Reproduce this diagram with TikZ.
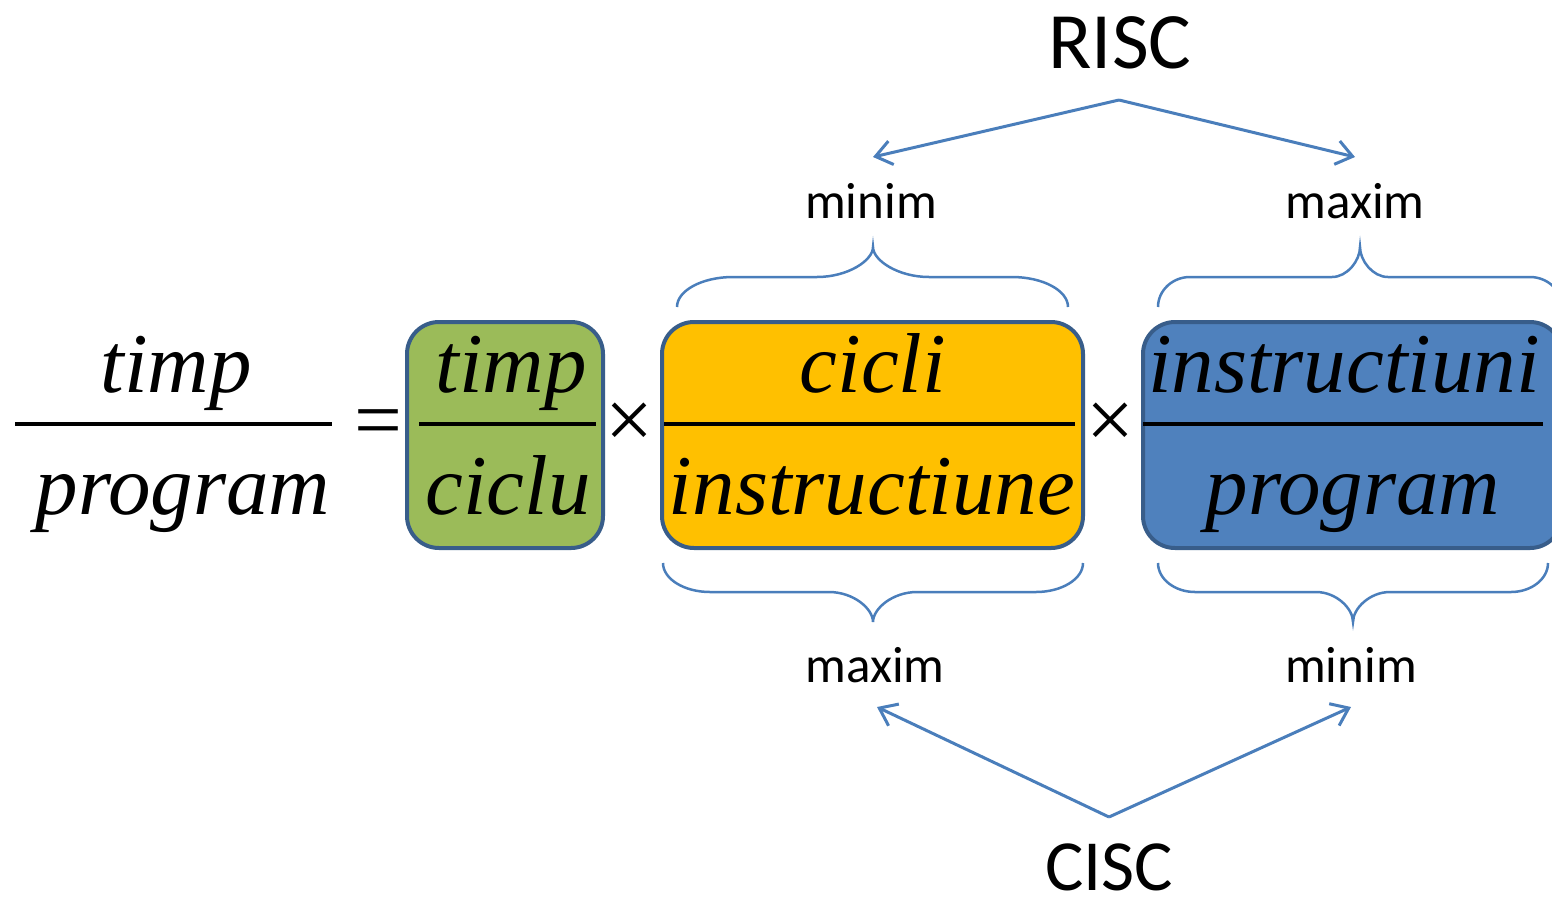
\documentclass[tikz,border=0pt]{standalone}
\usepackage{fontspec}
\setmainfont{Carlito}
\newfontfamily\fracfont{Liberation Serif Italic}
\newfontfamily\signfont{Liberation Serif}
\usepackage{tikz}
\usetikzlibrary{arrows.meta}
\definecolor{ppblue}{HTML}{4A7EBB}
\definecolor{boxline}{HTML}{385D8A}
\definecolor{boxgreen}{HTML}{9BBB59}
\definecolor{boxyellow}{HTML}{FFC000}
\definecolor{boxblue}{HTML}{4F81BD}

\begin{document}
\begin{tikzpicture}[x=1pt,y=-1pt,
ratio/.style={font=\fracfont\fontsize{85}{90}\selectfont, inner sep=0pt, anchor=base},
opsign/.style={font=\signfont\fontsize{85}{90}\selectfont, inner sep=0pt, anchor=base},
factorbox/.style={draw=boxline, line width=4pt, rounded corners=32pt, minimum height=226pt, inner sep=0pt},
fracbar/.style={line width=3.5pt},
levelnote/.style={font=\fontsize{51}{56}\selectfont, inner sep=0pt, anchor=base},
archname/.style={font=\fontsize{80}{90}\selectfont, inner sep=0pt, anchor=base},
pointer/.style={ppblue, line width=3pt, -{Straight Barb[length=16pt,width=24pt]}},
curlybrace/.style={ppblue, line width=2.5pt}]
\useasboundingbox (0,0) rectangle (1552,900);
% left side
\node[ratio] (lhs-num) at (176,392) {timp};
\node[ratio] (lhs-den) at (183,514) {program};
\draw[fracbar] (15,424) -- (332,424);
\node[opsign] (eq) at (378,448) {=};
% the three factors
\node[factorbox, fill=boxgreen, minimum width=196pt] (tpc) at (505,435) {};
\node[factorbox, fill=boxyellow, minimum width=421pt] (cpi) at (872.5,435) {};
\node[factorbox, fill=boxblue, minimum width=419pt] (ipp) at (1352.5,435) {};
\node[ratio] (tpc-num) at (511,392) {timp};
\node[ratio] (tpc-den) at (508,514) {ciclu};
\draw[fracbar] (419,424) -- (596,424);
\node[opsign] (times1) at (629,448) {×};
\node[ratio] (cpi-num) at (873,392) {cicli};
\node[ratio] (cpi-den) at (872,514) {instructiune};
\draw[fracbar] (664,424) -- (1075,424);
\node[opsign] (times2) at (1110,448) {×};
\node[ratio] (ipp-num) at (1344,392) {instructiuni};
\node[ratio] (ipp-den) at (1353,514) {program};
\draw[fracbar] (1143,424) -- (1543,424);
% braces
\foreach \l/\m/\r/\e/\h/\t/\c/\d in {677/873/1068/307/277/247/56/56, 1158/1360/1562/307/277/247/32/28,
    663/873/1083/563/592/622/47/44, 1158/1353/1548/563/592/622/37/37}
  \draw[curlybrace] (\l,\e) .. controls (\l,{\e+(\h-\e)*0.55}) and ({\l+\c*0.45},\h) .. ({\l+\c},\h)
    -- ({\m-\d},\h) .. controls ({\m-\d*0.45},\h) and (\m,{\h+(\t-\h)*0.55}) .. (\m,\t)
    .. controls (\m,{\h+(\t-\h)*0.55}) and ({\m+\d*0.45},\h) .. ({\m+\d},\h)
    -- ({\r-\c},\h) .. controls ({\r-\c*0.45},\h) and (\r,{\e+(\h-\e)*0.55}) .. (\r,\e);
% RISC / CISC
\node[archname] (risc) at (1120,68) {RISC};
\node[archname, font=\fontsize{72}{80}\selectfont] (cisc) at (1109,890) {CISC};
\node[levelnote] (risc-min) at (871,218) {minim};
\node[levelnote] (risc-max) at (1355,218) {maxim};
\node[levelnote] (cisc-max) at (875,682) {maxim};
\node[levelnote] (cisc-min) at (1351,682) {minim};
\coordinate (risc-apex) at (1119,100);
\coordinate (risc-min-tip) at (873,157);
\coordinate (risc-max-tip) at (1355,157);
\coordinate (cisc-apex) at (1109,817);
\coordinate (cisc-max-tip) at (877,707);
\coordinate (cisc-min-tip) at (1351,707);
\draw[pointer] (risc-apex) -- (risc-min-tip);
\draw[pointer] (risc-apex) -- (risc-max-tip);
\draw[pointer] (cisc-apex) -- (cisc-max-tip);
\draw[pointer] (cisc-apex) -- (cisc-min-tip);
\end{tikzpicture}
\end{document}
